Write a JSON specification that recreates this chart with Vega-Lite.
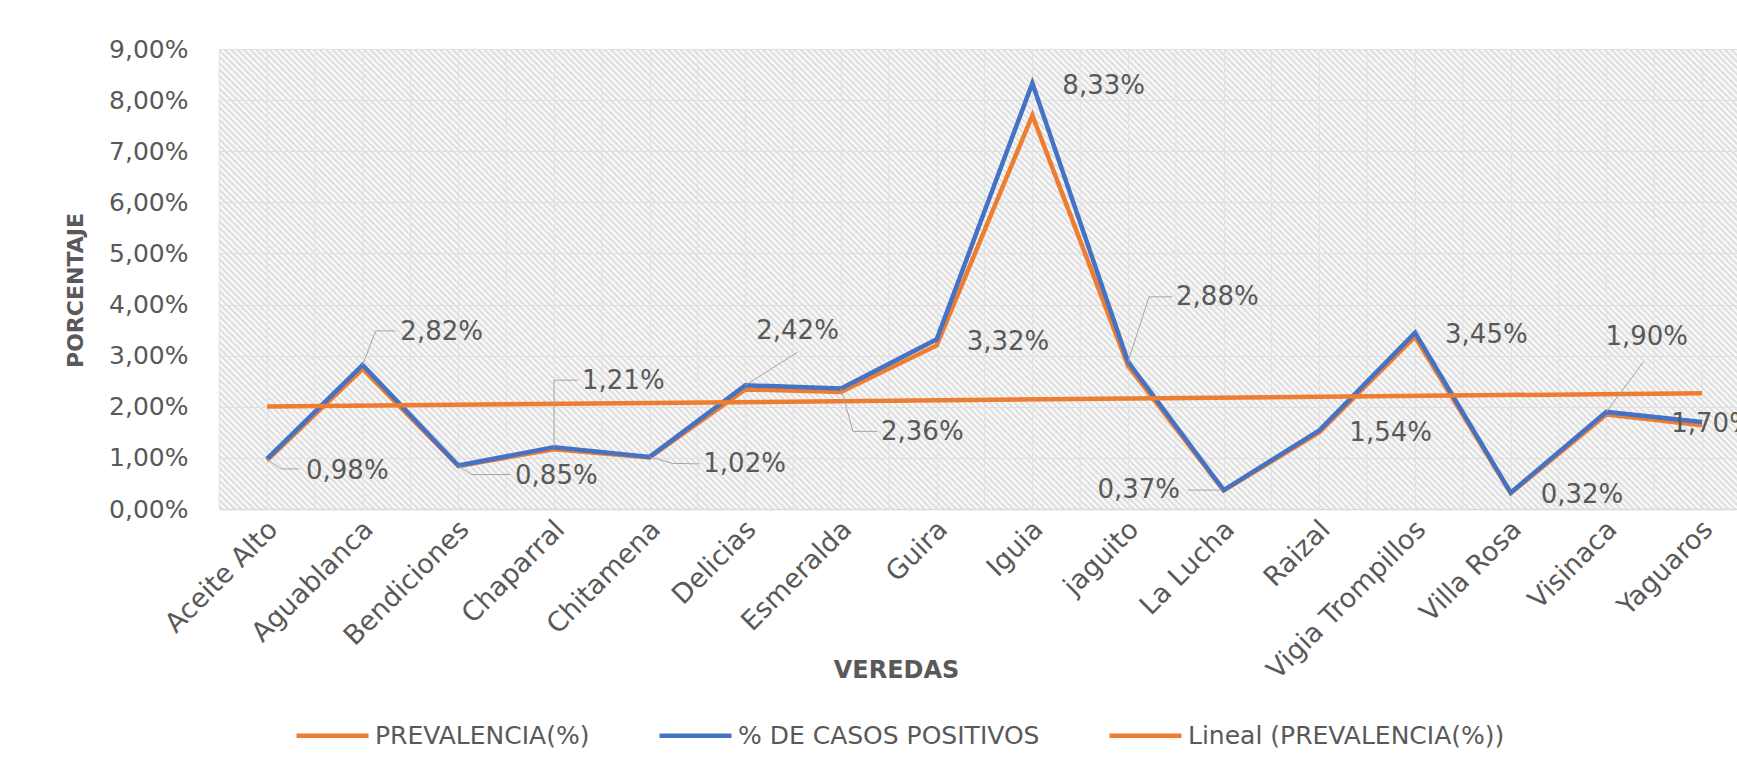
{
  "$schema": "https://vega.github.io/schema/vega-lite/v6.json",
  "width": 1518,
  "height": 460,
  "autosize": {"type": "none"},
  "padding": {"left": 219, "top": 49, "right": 0, "bottom": 267},
  "background": "#ffffff",
  "config": {
    "font": "DejaVu Sans",
    "view": {
      "stroke": null,
      "fill": {
        "gradient": "linear",
        "x1": 0, "y1": 1, "x2": 1.19344, "y2": 0.63835,
        "stops": [
{"offset":0,"color":"#fff"},{"offset":0.0016,"color":"#dadada"},{"offset":0.0032,"color":"#fff"},{"offset":0.0048,"color":"#dadada"},{"offset":0.0064,"color":"#fff"},{"offset":0.008,"color":"#dadada"},{"offset":0.0096,"color":"#fff"},{"offset":0.0112,"color":"#dadada"},{"offset":0.0128,"color":"#fff"},{"offset":0.0144,"color":"#dadada"},
{"offset":0.016,"color":"#fff"},{"offset":0.0176,"color":"#dadada"},{"offset":0.0192,"color":"#fff"},{"offset":0.0208,"color":"#dadada"},{"offset":0.0224,"color":"#fff"},{"offset":0.024,"color":"#dadada"},{"offset":0.0256,"color":"#fff"},{"offset":0.0272,"color":"#dadada"},{"offset":0.0288,"color":"#fff"},{"offset":0.0304,"color":"#dadada"},
{"offset":0.032,"color":"#fff"},{"offset":0.0336,"color":"#dadada"},{"offset":0.0352,"color":"#fff"},{"offset":0.0368,"color":"#dadada"},{"offset":0.0384,"color":"#fff"},{"offset":0.04,"color":"#dadada"},{"offset":0.0416,"color":"#fff"},{"offset":0.0432,"color":"#dadada"},{"offset":0.0448,"color":"#fff"},{"offset":0.0464,"color":"#dadada"},
{"offset":0.048,"color":"#fff"},{"offset":0.0496,"color":"#dadada"},{"offset":0.0512,"color":"#fff"},{"offset":0.0528,"color":"#dadada"},{"offset":0.0544,"color":"#fff"},{"offset":0.056,"color":"#dadada"},{"offset":0.0576,"color":"#fff"},{"offset":0.0592,"color":"#dadada"},{"offset":0.0608,"color":"#fff"},{"offset":0.0624,"color":"#dadada"},
{"offset":0.064,"color":"#fff"},{"offset":0.0656,"color":"#dadada"},{"offset":0.0672,"color":"#fff"},{"offset":0.0688,"color":"#dadada"},{"offset":0.0704,"color":"#fff"},{"offset":0.072,"color":"#dadada"},{"offset":0.0736,"color":"#fff"},{"offset":0.0752,"color":"#dadada"},{"offset":0.0768,"color":"#fff"},{"offset":0.0784,"color":"#dadada"},
{"offset":0.08,"color":"#fff"},{"offset":0.0816,"color":"#dadada"},{"offset":0.0832,"color":"#fff"},{"offset":0.0848,"color":"#dadada"},{"offset":0.0864,"color":"#fff"},{"offset":0.088,"color":"#dadada"},{"offset":0.0896,"color":"#fff"},{"offset":0.0912,"color":"#dadada"},{"offset":0.0928,"color":"#fff"},{"offset":0.0944,"color":"#dadada"},
{"offset":0.096,"color":"#fff"},{"offset":0.0976,"color":"#dadada"},{"offset":0.0992,"color":"#fff"},{"offset":0.1008,"color":"#dadada"},{"offset":0.1024,"color":"#fff"},{"offset":0.104,"color":"#dadada"},{"offset":0.1056,"color":"#fff"},{"offset":0.1072,"color":"#dadada"},{"offset":0.1088,"color":"#fff"},{"offset":0.1104,"color":"#dadada"},
{"offset":0.112,"color":"#fff"},{"offset":0.1136,"color":"#dadada"},{"offset":0.1152,"color":"#fff"},{"offset":0.1168,"color":"#dadada"},{"offset":0.1184,"color":"#fff"},{"offset":0.12,"color":"#dadada"},{"offset":0.1216,"color":"#fff"},{"offset":0.1232,"color":"#dadada"},{"offset":0.1248,"color":"#fff"},{"offset":0.1264,"color":"#dadada"},
{"offset":0.128,"color":"#fff"},{"offset":0.1296,"color":"#dadada"},{"offset":0.1312,"color":"#fff"},{"offset":0.1328,"color":"#dadada"},{"offset":0.1344,"color":"#fff"},{"offset":0.136,"color":"#dadada"},{"offset":0.1376,"color":"#fff"},{"offset":0.1392,"color":"#dadada"},{"offset":0.1408,"color":"#fff"},{"offset":0.1424,"color":"#dadada"},
{"offset":0.144,"color":"#fff"},{"offset":0.1456,"color":"#dadada"},{"offset":0.1472,"color":"#fff"},{"offset":0.1488,"color":"#dadada"},{"offset":0.1504,"color":"#fff"},{"offset":0.152,"color":"#dadada"},{"offset":0.1536,"color":"#fff"},{"offset":0.1552,"color":"#dadada"},{"offset":0.1568,"color":"#fff"},{"offset":0.1584,"color":"#dadada"},
{"offset":0.16,"color":"#fff"},{"offset":0.1616,"color":"#dadada"},{"offset":0.1632,"color":"#fff"},{"offset":0.1648,"color":"#dadada"},{"offset":0.1664,"color":"#fff"},{"offset":0.168,"color":"#dadada"},{"offset":0.1696,"color":"#fff"},{"offset":0.1712,"color":"#dadada"},{"offset":0.1728,"color":"#fff"},{"offset":0.1744,"color":"#dadada"},
{"offset":0.176,"color":"#fff"},{"offset":0.1776,"color":"#dadada"},{"offset":0.1792,"color":"#fff"},{"offset":0.1808,"color":"#dadada"},{"offset":0.1824,"color":"#fff"},{"offset":0.184,"color":"#dadada"},{"offset":0.1856,"color":"#fff"},{"offset":0.1872,"color":"#dadada"},{"offset":0.1888,"color":"#fff"},{"offset":0.1904,"color":"#dadada"},
{"offset":0.192,"color":"#fff"},{"offset":0.1936,"color":"#dadada"},{"offset":0.1952,"color":"#fff"},{"offset":0.1968,"color":"#dadada"},{"offset":0.1984,"color":"#fff"},{"offset":0.2,"color":"#dadada"},{"offset":0.2016,"color":"#fff"},{"offset":0.2032,"color":"#dadada"},{"offset":0.2048,"color":"#fff"},{"offset":0.2064,"color":"#dadada"},
{"offset":0.208,"color":"#fff"},{"offset":0.2096,"color":"#dadada"},{"offset":0.2112,"color":"#fff"},{"offset":0.2128,"color":"#dadada"},{"offset":0.2144,"color":"#fff"},{"offset":0.216,"color":"#dadada"},{"offset":0.2176,"color":"#fff"},{"offset":0.2192,"color":"#dadada"},{"offset":0.2208,"color":"#fff"},{"offset":0.2224,"color":"#dadada"},
{"offset":0.224,"color":"#fff"},{"offset":0.2256,"color":"#dadada"},{"offset":0.2272,"color":"#fff"},{"offset":0.2288,"color":"#dadada"},{"offset":0.2304,"color":"#fff"},{"offset":0.232,"color":"#dadada"},{"offset":0.2336,"color":"#fff"},{"offset":0.2352,"color":"#dadada"},{"offset":0.2368,"color":"#fff"},{"offset":0.2384,"color":"#dadada"},
{"offset":0.24,"color":"#fff"},{"offset":0.2416,"color":"#dadada"},{"offset":0.2432,"color":"#fff"},{"offset":0.2448,"color":"#dadada"},{"offset":0.2464,"color":"#fff"},{"offset":0.248,"color":"#dadada"},{"offset":0.2496,"color":"#fff"},{"offset":0.2512,"color":"#dadada"},{"offset":0.2528,"color":"#fff"},{"offset":0.2544,"color":"#dadada"},
{"offset":0.256,"color":"#fff"},{"offset":0.2576,"color":"#dadada"},{"offset":0.2592,"color":"#fff"},{"offset":0.2608,"color":"#dadada"},{"offset":0.2624,"color":"#fff"},{"offset":0.264,"color":"#dadada"},{"offset":0.2656,"color":"#fff"},{"offset":0.2672,"color":"#dadada"},{"offset":0.2688,"color":"#fff"},{"offset":0.2704,"color":"#dadada"},
{"offset":0.272,"color":"#fff"},{"offset":0.2736,"color":"#dadada"},{"offset":0.2752,"color":"#fff"},{"offset":0.2768,"color":"#dadada"},{"offset":0.2784,"color":"#fff"},{"offset":0.28,"color":"#dadada"},{"offset":0.2816,"color":"#fff"},{"offset":0.2832,"color":"#dadada"},{"offset":0.2848,"color":"#fff"},{"offset":0.2864,"color":"#dadada"},
{"offset":0.288,"color":"#fff"},{"offset":0.2896,"color":"#dadada"},{"offset":0.2912,"color":"#fff"},{"offset":0.2928,"color":"#dadada"},{"offset":0.2944,"color":"#fff"},{"offset":0.296,"color":"#dadada"},{"offset":0.2976,"color":"#fff"},{"offset":0.2992,"color":"#dadada"},{"offset":0.3008,"color":"#fff"},{"offset":0.3024,"color":"#dadada"},
{"offset":0.304,"color":"#fff"},{"offset":0.3056,"color":"#dadada"},{"offset":0.3072,"color":"#fff"},{"offset":0.3088,"color":"#dadada"},{"offset":0.3104,"color":"#fff"},{"offset":0.312,"color":"#dadada"},{"offset":0.3136,"color":"#fff"},{"offset":0.3152,"color":"#dadada"},{"offset":0.3168,"color":"#fff"},{"offset":0.3184,"color":"#dadada"},
{"offset":0.32,"color":"#fff"},{"offset":0.3216,"color":"#dadada"},{"offset":0.3232,"color":"#fff"},{"offset":0.3248,"color":"#dadada"},{"offset":0.3264,"color":"#fff"},{"offset":0.328,"color":"#dadada"},{"offset":0.3296,"color":"#fff"},{"offset":0.3312,"color":"#dadada"},{"offset":0.3328,"color":"#fff"},{"offset":0.3344,"color":"#dadada"},
{"offset":0.336,"color":"#fff"},{"offset":0.3376,"color":"#dadada"},{"offset":0.3392,"color":"#fff"},{"offset":0.3408,"color":"#dadada"},{"offset":0.3424,"color":"#fff"},{"offset":0.344,"color":"#dadada"},{"offset":0.3456,"color":"#fff"},{"offset":0.3472,"color":"#dadada"},{"offset":0.3488,"color":"#fff"},{"offset":0.3504,"color":"#dadada"},
{"offset":0.352,"color":"#fff"},{"offset":0.3536,"color":"#dadada"},{"offset":0.3552,"color":"#fff"},{"offset":0.3568,"color":"#dadada"},{"offset":0.3584,"color":"#fff"},{"offset":0.36,"color":"#dadada"},{"offset":0.3616,"color":"#fff"},{"offset":0.3632,"color":"#dadada"},{"offset":0.3648,"color":"#fff"},{"offset":0.3664,"color":"#dadada"},
{"offset":0.368,"color":"#fff"},{"offset":0.3696,"color":"#dadada"},{"offset":0.3712,"color":"#fff"},{"offset":0.3728,"color":"#dadada"},{"offset":0.3744,"color":"#fff"},{"offset":0.376,"color":"#dadada"},{"offset":0.3776,"color":"#fff"},{"offset":0.3792,"color":"#dadada"},{"offset":0.3808,"color":"#fff"},{"offset":0.3824,"color":"#dadada"},
{"offset":0.384,"color":"#fff"},{"offset":0.3856,"color":"#dadada"},{"offset":0.3872,"color":"#fff"},{"offset":0.3888,"color":"#dadada"},{"offset":0.3904,"color":"#fff"},{"offset":0.392,"color":"#dadada"},{"offset":0.3936,"color":"#fff"},{"offset":0.3952,"color":"#dadada"},{"offset":0.3968,"color":"#fff"},{"offset":0.3984,"color":"#dadada"},
{"offset":0.4,"color":"#fff"},{"offset":0.4016,"color":"#dadada"},{"offset":0.4032,"color":"#fff"},{"offset":0.4048,"color":"#dadada"},{"offset":0.4064,"color":"#fff"},{"offset":0.408,"color":"#dadada"},{"offset":0.4096,"color":"#fff"},{"offset":0.4112,"color":"#dadada"},{"offset":0.4128,"color":"#fff"},{"offset":0.4144,"color":"#dadada"},
{"offset":0.416,"color":"#fff"},{"offset":0.4176,"color":"#dadada"},{"offset":0.4192,"color":"#fff"},{"offset":0.4208,"color":"#dadada"},{"offset":0.4224,"color":"#fff"},{"offset":0.424,"color":"#dadada"},{"offset":0.4256,"color":"#fff"},{"offset":0.4272,"color":"#dadada"},{"offset":0.4288,"color":"#fff"},{"offset":0.4304,"color":"#dadada"},
{"offset":0.432,"color":"#fff"},{"offset":0.4336,"color":"#dadada"},{"offset":0.4352,"color":"#fff"},{"offset":0.4368,"color":"#dadada"},{"offset":0.4384,"color":"#fff"},{"offset":0.44,"color":"#dadada"},{"offset":0.4416,"color":"#fff"},{"offset":0.4432,"color":"#dadada"},{"offset":0.4448,"color":"#fff"},{"offset":0.4464,"color":"#dadada"},
{"offset":0.448,"color":"#fff"},{"offset":0.4496,"color":"#dadada"},{"offset":0.4512,"color":"#fff"},{"offset":0.4528,"color":"#dadada"},{"offset":0.4544,"color":"#fff"},{"offset":0.456,"color":"#dadada"},{"offset":0.4576,"color":"#fff"},{"offset":0.4592,"color":"#dadada"},{"offset":0.4608,"color":"#fff"},{"offset":0.4624,"color":"#dadada"},
{"offset":0.464,"color":"#fff"},{"offset":0.4656,"color":"#dadada"},{"offset":0.4672,"color":"#fff"},{"offset":0.4688,"color":"#dadada"},{"offset":0.4704,"color":"#fff"},{"offset":0.472,"color":"#dadada"},{"offset":0.4736,"color":"#fff"},{"offset":0.4752,"color":"#dadada"},{"offset":0.4768,"color":"#fff"},{"offset":0.4784,"color":"#dadada"},
{"offset":0.48,"color":"#fff"},{"offset":0.4816,"color":"#dadada"},{"offset":0.4832,"color":"#fff"},{"offset":0.4848,"color":"#dadada"},{"offset":0.4864,"color":"#fff"},{"offset":0.488,"color":"#dadada"},{"offset":0.4896,"color":"#fff"},{"offset":0.4912,"color":"#dadada"},{"offset":0.4928,"color":"#fff"},{"offset":0.4944,"color":"#dadada"},
{"offset":0.496,"color":"#fff"},{"offset":0.4976,"color":"#dadada"},{"offset":0.4992,"color":"#fff"},{"offset":0.5008,"color":"#dadada"},{"offset":0.5024,"color":"#fff"},{"offset":0.504,"color":"#dadada"},{"offset":0.5056,"color":"#fff"},{"offset":0.5072,"color":"#dadada"},{"offset":0.5088,"color":"#fff"},{"offset":0.5104,"color":"#dadada"},
{"offset":0.512,"color":"#fff"},{"offset":0.5136,"color":"#dadada"},{"offset":0.5152,"color":"#fff"},{"offset":0.5168,"color":"#dadada"},{"offset":0.5184,"color":"#fff"},{"offset":0.52,"color":"#dadada"},{"offset":0.5216,"color":"#fff"},{"offset":0.5232,"color":"#dadada"},{"offset":0.5248,"color":"#fff"},{"offset":0.5264,"color":"#dadada"},
{"offset":0.528,"color":"#fff"},{"offset":0.5296,"color":"#dadada"},{"offset":0.5312,"color":"#fff"},{"offset":0.5328,"color":"#dadada"},{"offset":0.5344,"color":"#fff"},{"offset":0.536,"color":"#dadada"},{"offset":0.5376,"color":"#fff"},{"offset":0.5392,"color":"#dadada"},{"offset":0.5408,"color":"#fff"},{"offset":0.5424,"color":"#dadada"},
{"offset":0.544,"color":"#fff"},{"offset":0.5456,"color":"#dadada"},{"offset":0.5472,"color":"#fff"},{"offset":0.5488,"color":"#dadada"},{"offset":0.5504,"color":"#fff"},{"offset":0.552,"color":"#dadada"},{"offset":0.5536,"color":"#fff"},{"offset":0.5552,"color":"#dadada"},{"offset":0.5568,"color":"#fff"},{"offset":0.5584,"color":"#dadada"},
{"offset":0.56,"color":"#fff"},{"offset":0.5616,"color":"#dadada"},{"offset":0.5632,"color":"#fff"},{"offset":0.5648,"color":"#dadada"},{"offset":0.5664,"color":"#fff"},{"offset":0.568,"color":"#dadada"},{"offset":0.5696,"color":"#fff"},{"offset":0.5712,"color":"#dadada"},{"offset":0.5728,"color":"#fff"},{"offset":0.5744,"color":"#dadada"},
{"offset":0.576,"color":"#fff"},{"offset":0.5776,"color":"#dadada"},{"offset":0.5792,"color":"#fff"},{"offset":0.5808,"color":"#dadada"},{"offset":0.5824,"color":"#fff"},{"offset":0.584,"color":"#dadada"},{"offset":0.5856,"color":"#fff"},{"offset":0.5872,"color":"#dadada"},{"offset":0.5888,"color":"#fff"},{"offset":0.5904,"color":"#dadada"},
{"offset":0.592,"color":"#fff"},{"offset":0.5936,"color":"#dadada"},{"offset":0.5952,"color":"#fff"},{"offset":0.5968,"color":"#dadada"},{"offset":0.5984,"color":"#fff"},{"offset":0.6,"color":"#dadada"},{"offset":0.6016,"color":"#fff"},{"offset":0.6032,"color":"#dadada"},{"offset":0.6048,"color":"#fff"},{"offset":0.6064,"color":"#dadada"},
{"offset":0.608,"color":"#fff"},{"offset":0.6096,"color":"#dadada"},{"offset":0.6112,"color":"#fff"},{"offset":0.6128,"color":"#dadada"},{"offset":0.6144,"color":"#fff"},{"offset":0.616,"color":"#dadada"},{"offset":0.6176,"color":"#fff"},{"offset":0.6192,"color":"#dadada"},{"offset":0.6208,"color":"#fff"},{"offset":0.6224,"color":"#dadada"},
{"offset":0.624,"color":"#fff"},{"offset":0.6256,"color":"#dadada"},{"offset":0.6272,"color":"#fff"},{"offset":0.6288,"color":"#dadada"},{"offset":0.6304,"color":"#fff"},{"offset":0.632,"color":"#dadada"},{"offset":0.6336,"color":"#fff"},{"offset":0.6352,"color":"#dadada"},{"offset":0.6368,"color":"#fff"},{"offset":0.6384,"color":"#dadada"},
{"offset":0.64,"color":"#fff"},{"offset":0.6416,"color":"#dadada"},{"offset":0.6432,"color":"#fff"},{"offset":0.6448,"color":"#dadada"},{"offset":0.6464,"color":"#fff"},{"offset":0.648,"color":"#dadada"},{"offset":0.6496,"color":"#fff"},{"offset":0.6512,"color":"#dadada"},{"offset":0.6528,"color":"#fff"},{"offset":0.6544,"color":"#dadada"},
{"offset":0.656,"color":"#fff"},{"offset":0.6576,"color":"#dadada"},{"offset":0.6592,"color":"#fff"},{"offset":0.6608,"color":"#dadada"},{"offset":0.6624,"color":"#fff"},{"offset":0.664,"color":"#dadada"},{"offset":0.6656,"color":"#fff"},{"offset":0.6672,"color":"#dadada"},{"offset":0.6688,"color":"#fff"},{"offset":0.6704,"color":"#dadada"},
{"offset":0.672,"color":"#fff"},{"offset":0.6736,"color":"#dadada"},{"offset":0.6752,"color":"#fff"},{"offset":0.6768,"color":"#dadada"},{"offset":0.6784,"color":"#fff"},{"offset":0.68,"color":"#dadada"},{"offset":0.6816,"color":"#fff"},{"offset":0.6832,"color":"#dadada"},{"offset":0.6848,"color":"#fff"},{"offset":0.6864,"color":"#dadada"},
{"offset":0.688,"color":"#fff"},{"offset":0.6896,"color":"#dadada"},{"offset":0.6912,"color":"#fff"},{"offset":0.6928,"color":"#dadada"},{"offset":0.6944,"color":"#fff"},{"offset":0.696,"color":"#dadada"},{"offset":0.6976,"color":"#fff"},{"offset":0.6992,"color":"#dadada"},{"offset":0.7008,"color":"#fff"},{"offset":0.7024,"color":"#dadada"},
{"offset":0.704,"color":"#fff"},{"offset":0.7056,"color":"#dadada"},{"offset":0.7072,"color":"#fff"},{"offset":0.7088,"color":"#dadada"},{"offset":0.7104,"color":"#fff"},{"offset":0.712,"color":"#dadada"},{"offset":0.7136,"color":"#fff"},{"offset":0.7152,"color":"#dadada"},{"offset":0.7168,"color":"#fff"},{"offset":0.7184,"color":"#dadada"},
{"offset":0.72,"color":"#fff"},{"offset":0.7216,"color":"#dadada"},{"offset":0.7232,"color":"#fff"},{"offset":0.7248,"color":"#dadada"},{"offset":0.7264,"color":"#fff"},{"offset":0.728,"color":"#dadada"},{"offset":0.7296,"color":"#fff"},{"offset":0.7312,"color":"#dadada"},{"offset":0.7328,"color":"#fff"},{"offset":0.7344,"color":"#dadada"},
{"offset":0.736,"color":"#fff"},{"offset":0.7376,"color":"#dadada"},{"offset":0.7392,"color":"#fff"},{"offset":0.7408,"color":"#dadada"},{"offset":0.7424,"color":"#fff"},{"offset":0.744,"color":"#dadada"},{"offset":0.7456,"color":"#fff"},{"offset":0.7472,"color":"#dadada"},{"offset":0.7488,"color":"#fff"},{"offset":0.7504,"color":"#dadada"},
{"offset":0.752,"color":"#fff"},{"offset":0.7536,"color":"#dadada"},{"offset":0.7552,"color":"#fff"},{"offset":0.7568,"color":"#dadada"},{"offset":0.7584,"color":"#fff"},{"offset":0.76,"color":"#dadada"},{"offset":0.7616,"color":"#fff"},{"offset":0.7632,"color":"#dadada"},{"offset":0.7648,"color":"#fff"},{"offset":0.7664,"color":"#dadada"},
{"offset":0.768,"color":"#fff"},{"offset":0.7696,"color":"#dadada"},{"offset":0.7712,"color":"#fff"},{"offset":0.7728,"color":"#dadada"},{"offset":0.7744,"color":"#fff"},{"offset":0.776,"color":"#dadada"},{"offset":0.7776,"color":"#fff"},{"offset":0.7792,"color":"#dadada"},{"offset":0.7808,"color":"#fff"},{"offset":0.7824,"color":"#dadada"},
{"offset":0.784,"color":"#fff"},{"offset":0.7856,"color":"#dadada"},{"offset":0.7872,"color":"#fff"},{"offset":0.7888,"color":"#dadada"},{"offset":0.7904,"color":"#fff"},{"offset":0.792,"color":"#dadada"},{"offset":0.7936,"color":"#fff"},{"offset":0.7952,"color":"#dadada"},{"offset":0.7968,"color":"#fff"},{"offset":0.7984,"color":"#dadada"},
{"offset":0.8,"color":"#fff"},{"offset":0.8016,"color":"#dadada"},{"offset":0.8032,"color":"#fff"},{"offset":0.8048,"color":"#dadada"},{"offset":0.8064,"color":"#fff"},{"offset":0.808,"color":"#dadada"},{"offset":0.8096,"color":"#fff"},{"offset":0.8112,"color":"#dadada"},{"offset":0.8128,"color":"#fff"},{"offset":0.8144,"color":"#dadada"},
{"offset":0.816,"color":"#fff"},{"offset":0.8176,"color":"#dadada"},{"offset":0.8192,"color":"#fff"},{"offset":0.8208,"color":"#dadada"},{"offset":0.8224,"color":"#fff"},{"offset":0.824,"color":"#dadada"},{"offset":0.8256,"color":"#fff"},{"offset":0.8272,"color":"#dadada"},{"offset":0.8288,"color":"#fff"},{"offset":0.8304,"color":"#dadada"},
{"offset":0.832,"color":"#fff"},{"offset":0.8336,"color":"#dadada"},{"offset":0.8352,"color":"#fff"},{"offset":0.8368,"color":"#dadada"},{"offset":0.8384,"color":"#fff"},{"offset":0.84,"color":"#dadada"},{"offset":0.8416,"color":"#fff"},{"offset":0.8432,"color":"#dadada"},{"offset":0.8448,"color":"#fff"},{"offset":0.8464,"color":"#dadada"},
{"offset":0.848,"color":"#fff"},{"offset":0.8496,"color":"#dadada"},{"offset":0.8512,"color":"#fff"},{"offset":0.8528,"color":"#dadada"},{"offset":0.8544,"color":"#fff"},{"offset":0.856,"color":"#dadada"},{"offset":0.8576,"color":"#fff"},{"offset":0.8592,"color":"#dadada"},{"offset":0.8608,"color":"#fff"},{"offset":0.8624,"color":"#dadada"},
{"offset":0.864,"color":"#fff"},{"offset":0.8656,"color":"#dadada"},{"offset":0.8672,"color":"#fff"},{"offset":0.8688,"color":"#dadada"},{"offset":0.8704,"color":"#fff"},{"offset":0.872,"color":"#dadada"},{"offset":0.8736,"color":"#fff"},{"offset":0.8752,"color":"#dadada"},{"offset":0.8768,"color":"#fff"},{"offset":0.8784,"color":"#dadada"},
{"offset":0.88,"color":"#fff"},{"offset":0.8816,"color":"#dadada"},{"offset":0.8832,"color":"#fff"},{"offset":0.8848,"color":"#dadada"},{"offset":0.8864,"color":"#fff"},{"offset":0.888,"color":"#dadada"},{"offset":0.8896,"color":"#fff"},{"offset":0.8912,"color":"#dadada"},{"offset":0.8928,"color":"#fff"},{"offset":0.8944,"color":"#dadada"},
{"offset":0.896,"color":"#fff"},{"offset":0.8976,"color":"#dadada"},{"offset":0.8992,"color":"#fff"},{"offset":0.9008,"color":"#dadada"},{"offset":0.9024,"color":"#fff"},{"offset":0.904,"color":"#dadada"},{"offset":0.9056,"color":"#fff"},{"offset":0.9072,"color":"#dadada"},{"offset":0.9088,"color":"#fff"},{"offset":0.9104,"color":"#dadada"},
{"offset":0.912,"color":"#fff"},{"offset":0.9136,"color":"#dadada"},{"offset":0.9152,"color":"#fff"},{"offset":0.9168,"color":"#dadada"},{"offset":0.9184,"color":"#fff"},{"offset":0.92,"color":"#dadada"},{"offset":0.9216,"color":"#fff"},{"offset":0.9232,"color":"#dadada"},{"offset":0.9248,"color":"#fff"},{"offset":0.9264,"color":"#dadada"},
{"offset":0.928,"color":"#fff"},{"offset":0.9296,"color":"#dadada"},{"offset":0.9312,"color":"#fff"},{"offset":0.9328,"color":"#dadada"},{"offset":0.9344,"color":"#fff"},{"offset":0.936,"color":"#dadada"},{"offset":0.9376,"color":"#fff"},{"offset":0.9392,"color":"#dadada"},{"offset":0.9408,"color":"#fff"},{"offset":0.9424,"color":"#dadada"},
{"offset":0.944,"color":"#fff"},{"offset":0.9456,"color":"#dadada"},{"offset":0.9472,"color":"#fff"},{"offset":0.9488,"color":"#dadada"},{"offset":0.9504,"color":"#fff"},{"offset":0.952,"color":"#dadada"},{"offset":0.9536,"color":"#fff"},{"offset":0.9552,"color":"#dadada"},{"offset":0.9568,"color":"#fff"},{"offset":0.9584,"color":"#dadada"},
{"offset":0.96,"color":"#fff"},{"offset":0.9616,"color":"#dadada"},{"offset":0.9632,"color":"#fff"},{"offset":0.9648,"color":"#dadada"},{"offset":0.9664,"color":"#fff"},{"offset":0.968,"color":"#dadada"},{"offset":0.9696,"color":"#fff"},{"offset":0.9712,"color":"#dadada"},{"offset":0.9728,"color":"#fff"},{"offset":0.9744,"color":"#dadada"},
{"offset":0.976,"color":"#fff"},{"offset":0.9776,"color":"#dadada"},{"offset":0.9792,"color":"#fff"},{"offset":0.9808,"color":"#dadada"},{"offset":0.9824,"color":"#fff"},{"offset":0.984,"color":"#dadada"},{"offset":0.9856,"color":"#fff"},{"offset":0.9872,"color":"#dadada"},{"offset":0.9888,"color":"#fff"},{"offset":0.9904,"color":"#dadada"},
{"offset":0.992,"color":"#fff"},{"offset":0.9936,"color":"#dadada"},{"offset":0.9952,"color":"#fff"},{"offset":0.9968,"color":"#dadada"},{"offset":0.9984,"color":"#fff"},{"offset":1,"color":"#dadada"}
        ]
      }
    }
  },
  "data": {
    "values": [
      {"vereda": "Aceite Alto", "serie": "PREVALENCIA(%)", "valor": 0.95},
      {"vereda": "Aguablanca", "serie": "PREVALENCIA(%)", "valor": 2.74},
      {"vereda": "Bendiciones", "serie": "PREVALENCIA(%)", "valor": 0.84},
      {"vereda": "Chaparral", "serie": "PREVALENCIA(%)", "valor": 1.17},
      {"vereda": "Chitamena", "serie": "PREVALENCIA(%)", "valor": 1.01},
      {"vereda": "Delicias", "serie": "PREVALENCIA(%)", "valor": 2.34},
      {"vereda": "Esmeralda", "serie": "PREVALENCIA(%)", "valor": 2.29},
      {"vereda": "Guira", "serie": "PREVALENCIA(%)", "valor": 3.2},
      {"vereda": "Iguia", "serie": "PREVALENCIA(%)", "valor": 7.7},
      {"vereda": "jaguito", "serie": "PREVALENCIA(%)", "valor": 2.8},
      {"vereda": "La Lucha", "serie": "PREVALENCIA(%)", "valor": 0.36},
      {"vereda": "Raizal", "serie": "PREVALENCIA(%)", "valor": 1.5},
      {"vereda": "Vigia Trompillos", "serie": "PREVALENCIA(%)", "valor": 3.37},
      {"vereda": "Villa Rosa", "serie": "PREVALENCIA(%)", "valor": 0.31},
      {"vereda": "Visinaca", "serie": "PREVALENCIA(%)", "valor": 1.85},
      {"vereda": "Yaguaros", "serie": "PREVALENCIA(%)", "valor": 1.64},
      {"vereda": "Aceite Alto", "serie": "% DE CASOS POSITIVOS", "valor": 0.98},
      {"vereda": "Aguablanca", "serie": "% DE CASOS POSITIVOS", "valor": 2.82},
      {"vereda": "Bendiciones", "serie": "% DE CASOS POSITIVOS", "valor": 0.85},
      {"vereda": "Chaparral", "serie": "% DE CASOS POSITIVOS", "valor": 1.21},
      {"vereda": "Chitamena", "serie": "% DE CASOS POSITIVOS", "valor": 1.02},
      {"vereda": "Delicias", "serie": "% DE CASOS POSITIVOS", "valor": 2.42},
      {"vereda": "Esmeralda", "serie": "% DE CASOS POSITIVOS", "valor": 2.36},
      {"vereda": "Guira", "serie": "% DE CASOS POSITIVOS", "valor": 3.32},
      {"vereda": "Iguia", "serie": "% DE CASOS POSITIVOS", "valor": 8.33},
      {"vereda": "jaguito", "serie": "% DE CASOS POSITIVOS", "valor": 2.88},
      {"vereda": "La Lucha", "serie": "% DE CASOS POSITIVOS", "valor": 0.37},
      {"vereda": "Raizal", "serie": "% DE CASOS POSITIVOS", "valor": 1.54},
      {"vereda": "Vigia Trompillos", "serie": "% DE CASOS POSITIVOS", "valor": 3.45},
      {"vereda": "Villa Rosa", "serie": "% DE CASOS POSITIVOS", "valor": 0.32},
      {"vereda": "Visinaca", "serie": "% DE CASOS POSITIVOS", "valor": 1.9},
      {"vereda": "Yaguaros", "serie": "% DE CASOS POSITIVOS", "valor": 1.7},
      {"vereda": "Aceite Alto", "serie": "Lineal (PREVALENCIA(%))", "valor": 2.005},
      {"vereda": "Yaguaros", "serie": "Lineal (PREVALENCIA(%))", "valor": 2.265}
    ]
  },
  "transform": [
    {"calculate": "replace(format(datum.valor, '.2f'), '.', ',') + '%'", "as": "label"}
  ],
  "encoding": {
    "x": {
      "field": "vereda",
      "type": "nominal",
      "scale": {
        "type": "point",
        "padding": 0.4335,
        "align": 0.5787,
        "domain": ["Aceite Alto", "Aguablanca", "Bendiciones", "Chaparral", "Chitamena", "Delicias", "Esmeralda", "Guira", "Iguia", "jaguito", "La Lucha", "Raizal", "Vigia Trompillos", "Villa Rosa", "Visinaca", "Yaguaros"]
      },
      "axis": {
        "title": "VEREDAS",
        "titleFontSize": 24,
        "titleFontWeight": "bold",
        "titleColor": "#595959",
        "titleX": 677,
        "titleY": 161,
        "titleAlign": "center",
        "titleBaseline": "middle",
        "labelAngle": -45,
        "labelAlign": "right",
        "labelBaseline": "middle",
        "labelFontSize": 27,
        "labelColor": "#595959",
        "labelPadding": 16,
        "labelOffset": 6,
        "labelLimit": 600,
        "ticks": false,
        "domainColor": "#d9d9d9",
        "domainWidth": 1.5,
        "grid": true,
        "gridColor": "#e2e2e2"
      }
    }
  },
  "layer": [
    {
      "transform": [{"filter": "datum.serie == '% DE CASOS POSITIVOS'"}],
      "mark": {"type": "rule", "xOffset": -47.8, "color": "#e2e2e2", "strokeWidth": 1},
      "encoding": {}
    },
    {
      "transform": [{"filter": "datum.serie == 'PREVALENCIA(%)'"}],
      "mark": {"type": "line", "strokeWidth": 4.5},
      "encoding": {
        "y": {
          "field": "valor",
          "type": "quantitative",
          "scale": {"domain": [0, 9], "nice": false},
          "axis": {
            "title": "PORCENTAJE",
            "titleFontSize": 22,
            "titleFontWeight": "bold",
            "titleColor": "#595959",
            "titleX": -144,
            "titleY": 241,
            "titleAlign": "center",
            "titleBaseline": "middle",
            "values": [0, 1, 2, 3, 4, 5, 6, 7, 8, 9],
            "labelExpr": "replace(format(datum.value, '.2f'), '.', ',') + '%'",
            "labelFontSize": 25,
            "labelColor": "#595959",
            "labelPadding": 31,
            "ticks": false,
            "domain": false,
            "grid": true,
            "gridColor": "#e0e0e0"
          }
        },
        "color": {
          "field": "serie",
          "type": "nominal",
          "scale": {
            "domain": ["PREVALENCIA(%)", "% DE CASOS POSITIVOS", "Lineal (PREVALENCIA(%))"],
            "range": ["#ED7D31", "#4472C4", "#ED7D31"]
          },
          "legend": {
            "title": null,
            "orient": "none",
            "direction": "horizontal",
            "legendX": 75,
            "legendY": 648,
            "symbolType": "stroke",
            "symbolSize": 5184,
            "symbolStrokeWidth": 4.5,
            "labelFontSize": 25,
            "labelColor": "#595959",
            "labelOffset": 4,
            "labelLimit": 600,
            "columnPadding": 60
          }
        }
      }
    },
    {
      "transform": [{"filter": "datum.serie == '% DE CASOS POSITIVOS'"}],
      "mark": {"type": "line", "strokeWidth": 4.5},
      "encoding": {
        "y": {"field": "valor", "type": "quantitative"},
        "color": {"field": "serie", "type": "nominal"}
      }
    },
    {
      "transform": [{"filter": "datum.serie == 'Lineal (PREVALENCIA(%))'"}],
      "mark": {"type": "line", "strokeWidth": 4.5},
      "encoding": {
        "y": {"field": "valor", "type": "quantitative"},
        "color": {"field": "serie", "type": "nominal"}
      }
    },
    {
      "transform": [{"filter": "datum.serie == '% DE CASOS POSITIVOS'"}],
      "encoding": {
        "y": {"field": "valor", "type": "quantitative"},
        "x2": {"field": "vereda"},
        "y2": {"field": "valor"}
      },
      "layer": [
        {"transform": [{"filter": "datum.vereda == 'Aceite Alto'"}], "mark": {"type": "rule", "color": "#a6a6a6", "strokeWidth": 1, "x2Offset": 14, "y2Offset": 10}},
        {"transform": [{"filter": "datum.vereda == 'Aceite Alto'"}], "mark": {"type": "rule", "color": "#a6a6a6", "strokeWidth": 1, "xOffset": 14, "yOffset": 10, "x2Offset": 32, "y2Offset": 10}},
        {"transform": [{"filter": "datum.vereda == 'Aguablanca'"}], "mark": {"type": "rule", "color": "#a6a6a6", "strokeWidth": 1, "x2Offset": 13, "y2Offset": -34}},
        {"transform": [{"filter": "datum.vereda == 'Aguablanca'"}], "mark": {"type": "rule", "color": "#a6a6a6", "strokeWidth": 1, "xOffset": 13, "yOffset": -34, "x2Offset": 33, "y2Offset": -34}},
        {"transform": [{"filter": "datum.vereda == 'Bendiciones'"}], "mark": {"type": "rule", "color": "#a6a6a6", "strokeWidth": 1, "x2Offset": 13, "y2Offset": 9}},
        {"transform": [{"filter": "datum.vereda == 'Bendiciones'"}], "mark": {"type": "rule", "color": "#a6a6a6", "strokeWidth": 1, "xOffset": 13, "yOffset": 9, "x2Offset": 52, "y2Offset": 9}},
        {"transform": [{"filter": "datum.vereda == 'Chaparral'"}], "mark": {"type": "rule", "color": "#a6a6a6", "strokeWidth": 1, "x2Offset": 0, "y2Offset": -67}},
        {"transform": [{"filter": "datum.vereda == 'Chaparral'"}], "mark": {"type": "rule", "color": "#a6a6a6", "strokeWidth": 1, "xOffset": 0, "yOffset": -67, "x2Offset": 24, "y2Offset": -67}},
        {"transform": [{"filter": "datum.vereda == 'Chitamena'"}], "mark": {"type": "rule", "color": "#a6a6a6", "strokeWidth": 1, "x2Offset": 23, "y2Offset": 6.5}},
        {"transform": [{"filter": "datum.vereda == 'Chitamena'"}], "mark": {"type": "rule", "color": "#a6a6a6", "strokeWidth": 1, "xOffset": 23, "yOffset": 6.5, "x2Offset": 50, "y2Offset": 7}},
        {"transform": [{"filter": "datum.vereda == 'Delicias'"}], "mark": {"type": "rule", "color": "#a6a6a6", "strokeWidth": 1, "x2Offset": 52, "y2Offset": -33}},
        {"transform": [{"filter": "datum.vereda == 'Esmeralda'"}], "mark": {"type": "rule", "color": "#a6a6a6", "strokeWidth": 1, "x2Offset": 12, "y2Offset": 43}},
        {"transform": [{"filter": "datum.vereda == 'Esmeralda'"}], "mark": {"type": "rule", "color": "#a6a6a6", "strokeWidth": 1, "xOffset": 12, "yOffset": 43, "x2Offset": 36, "y2Offset": 43}},
        {"transform": [{"filter": "datum.vereda == 'jaguito'"}], "mark": {"type": "rule", "color": "#a6a6a6", "strokeWidth": 1, "x2Offset": 21, "y2Offset": -65}},
        {"transform": [{"filter": "datum.vereda == 'jaguito'"}], "mark": {"type": "rule", "color": "#a6a6a6", "strokeWidth": 1, "xOffset": 21, "yOffset": -65, "x2Offset": 44, "y2Offset": -65}},
        {"transform": [{"filter": "datum.vereda == 'La Lucha'"}], "mark": {"type": "rule", "color": "#a6a6a6", "strokeWidth": 1, "xOffset": -2, "x2Offset": -36, "y2Offset": 0}},
        {"transform": [{"filter": "datum.vereda == 'Visinaca'"}], "mark": {"type": "rule", "color": "#a6a6a6", "strokeWidth": 1, "x2Offset": 37, "y2Offset": -50}}
      ]
    },
    {
      "transform": [{"filter": "datum.serie == '% DE CASOS POSITIVOS'"}],
      "encoding": {
        "y": {"field": "valor", "type": "quantitative"},
        "text": {"field": "label"}
      },
      "layer": [
        {"transform": [{"filter": "indexof(['Guira','Iguia','Raizal','Vigia Trompillos','Villa Rosa'], datum.vereda) >= 0"}], "mark": {"type": "text", "align": "left", "baseline": "middle", "fontSize": 26, "color": "#595959", "dx": 30, "dy": 2.5}},
        {"transform": [{"filter": "datum.vereda == 'Aceite Alto'"}], "mark": {"type": "text", "align": "left", "baseline": "middle", "fontSize": 26, "color": "#595959", "dx": 39, "dy": 11.6}},
        {"transform": [{"filter": "datum.vereda == 'Aguablanca'"}], "mark": {"type": "text", "align": "left", "baseline": "middle", "fontSize": 26, "color": "#595959", "dx": 37.7, "dy": -32.7}},
        {"transform": [{"filter": "datum.vereda == 'Bendiciones'"}], "mark": {"type": "text", "align": "left", "baseline": "middle", "fontSize": 26, "color": "#595959", "dx": 56.7, "dy": 10}},
        {"transform": [{"filter": "datum.vereda == 'Chaparral'"}], "mark": {"type": "text", "align": "left", "baseline": "middle", "fontSize": 26, "color": "#595959", "dx": 28, "dy": -66}},
        {"transform": [{"filter": "datum.vereda == 'Chitamena'"}], "mark": {"type": "text", "align": "left", "baseline": "middle", "fontSize": 26, "color": "#595959", "dx": 53.6, "dy": 7}},
        {"transform": [{"filter": "datum.vereda == 'Delicias'"}], "mark": {"type": "text", "align": "left", "baseline": "middle", "fontSize": 26, "color": "#595959", "dx": 10.9, "dy": -54.8}},
        {"transform": [{"filter": "datum.vereda == 'Esmeralda'"}], "mark": {"type": "text", "align": "left", "baseline": "middle", "fontSize": 26, "color": "#595959", "dx": 40, "dy": 43.8}},
        {"transform": [{"filter": "datum.vereda == 'jaguito'"}], "mark": {"type": "text", "align": "left", "baseline": "middle", "fontSize": 26, "color": "#595959", "dx": 48, "dy": -64.6}},
        {"transform": [{"filter": "datum.vereda == 'La Lucha'"}], "mark": {"type": "text", "align": "right", "baseline": "middle", "fontSize": 26, "color": "#595959", "dx": -43.7, "dy": 0}},
        {"transform": [{"filter": "datum.vereda == 'Visinaca'"}], "mark": {"type": "text", "align": "left", "baseline": "middle", "fontSize": 26, "color": "#595959", "dx": -1, "dy": -74.7}},
        {"transform": [{"filter": "datum.vereda == 'Yaguaros'"}], "mark": {"type": "text", "align": "left", "baseline": "middle", "fontSize": 26, "color": "#595959", "dx": -30.8, "dy": 1.5}}
      ]
    }
  ]
}
